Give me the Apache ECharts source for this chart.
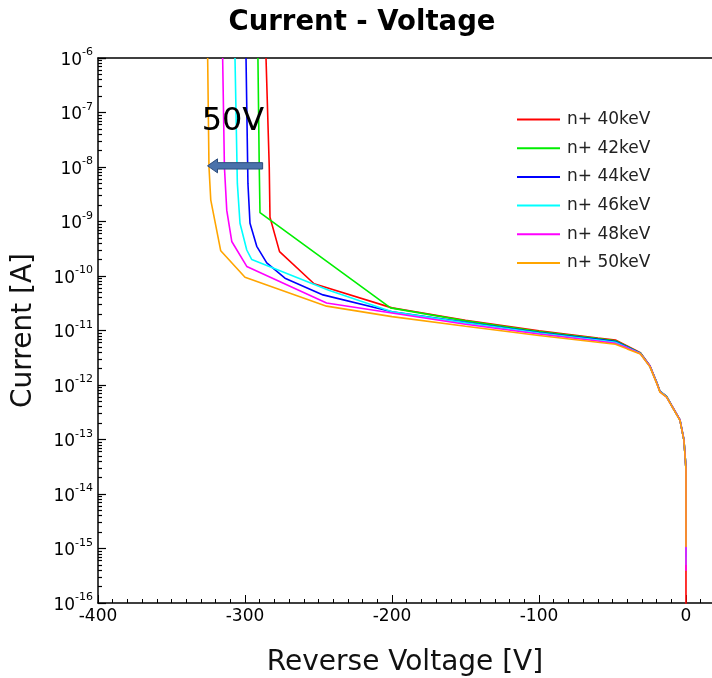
<!DOCTYPE html>
<html>
<head>
<meta charset="utf-8">
<script src="https://cdn.jsdelivr.net/npm/echarts@6/dist/echarts.min.js"></script>
<style>html,body{margin:0;padding:0;background:#fff}#c{width:712px;height:678px}</style>
</head>
<body>
<div id="c"></div>
<script>
const seriesNames = ['n+ 40keV', 'n+ 42keV', 'n+ 44keV', 'n+ 46keV', 'n+ 48keV', 'n+ 50keV'];
const seriesColors = ['#ff0000', '#00ee00', '#0000ff', '#00ffff', '#ff00ff', '#ffa500'];

const volt40 = [-285.7, -283.5, -283, -276.5, -253, -200, -150, -100, -60, -48, -40, -31, -24.5, -19.8, -17.7, -13.2, -8.6, -4.1, -1.4, -0.4, 0, 0];
const curr40 = [1e-6, 1e-8, 1.2e-9, 2.8e-10, 7.2e-11, 2.6e-11, 1.54e-11, 9.9e-12, 7.3e-12, 6.7e-12, 5.2e-12, 3.9e-12, 2.25e-12, 1.1e-12, 7.7e-13, 6.2e-13, 3.75e-13, 2.3e-13, 9.8e-14, 4.2e-14, 2.8e-14, 5e-17];

const volt42 = [-291.2, -290.3, -289.8, -201, -150, -100, -60, -48, -40, -31, -24.5, -19.8, -17.7, -13.2, -8.6, -4.1, -1.4, -0.4, 0, 0];
const curr42 = [1e-6, 1e-8, 1.45e-9, 2.6e-11, 1.5e-11, 9.6e-12, 7.1e-12, 6.5e-12, 5.1e-12, 3.85e-12, 2.2e-12, 1.1e-12, 7.6e-13, 6.1e-13, 3.7e-13, 2.3e-13, 9.8e-14, 4.2e-14, 2.8e-14, 6e-16];

const volt44 = [-299.3, -298, -296.6, -292, -285.2, -272.8, -246.9, -200, -150, -100, -60, -48, -40, -31, -24.5, -19.8, -17.7, -13.2, -8.6, -4.1, -1.4, -0.4, 0, 0];
const curr44 = [1e-6, 5e-9, 9.3e-10, 3.5e-10, 1.74e-10, 9.1e-11, 4.5e-11, 2.2e-11, 1.42e-11, 9.2e-12, 6.9e-12, 6.3e-12, 5.0e-12, 3.8e-12, 2.2e-12, 1.08e-12, 7.6e-13, 6.1e-13, 3.7e-13, 2.3e-13, 9.8e-14, 4.2e-14, 2.8e-14, 7e-16];

const volt46 = [-306.8, -305.2, -303.4, -298.8, -295.4, -243, -200, -150, -100, -60, -48, -40, -31, -24.5, -19.8, -17.7, -13.2, -8.6, -4.1, -1.4, -0.4, 0, 0];
const curr46 = [1e-6, 5e-9, 9.3e-10, 3e-10, 2e-10, 5.5e-11, 2.2e-11, 1.38e-11, 9.0e-12, 6.7e-12, 6.1e-12, 4.9e-12, 3.8e-12, 2.2e-12, 1.08e-12, 7.6e-13, 6.1e-13, 3.7e-13, 2.3e-13, 9.8e-14, 4.2e-14, 2.8e-14, 5e-16];

const volt48 = [-315.2, -314, -312.4, -309, -298.8, -244.5, -200, -150, -100, -60, -48, -40, -31, -24.5, -19.8, -17.7, -13.2, -8.6, -4.1, -1.4, -0.4, 0, 0];
const curr48 = [1e-6, 1e-8, 1.6e-9, 4.3e-10, 1.5e-10, 3.2e-11, 2.1e-11, 1.3e-11, 8.6e-12, 6.4e-12, 5.8e-12, 4.8e-12, 3.75e-12, 2.2e-12, 1.07e-12, 7.5e-13, 6.0e-13, 3.7e-13, 2.3e-13, 9.8e-14, 4.2e-14, 2.8e-14, 3.9e-16];

const volt50 = [-325.4, -324.5, -323.3, -316.5, -300, -244.5, -200, -150, -100, -60, -48, -40, -31, -24.5, -19.8, -17.7, -13.2, -8.6, -4.1, -1.4, -0.4, 0, 0];
const curr50 = [1e-6, 1e-8, 2.5e-9, 2.9e-10, 9.5e-11, 2.8e-11, 1.8e-11, 1.2e-11, 8.1e-12, 6.1e-12, 5.6e-12, 4.6e-12, 3.7e-12, 2.15e-12, 1.05e-12, 7.4e-13, 6.0e-13, 3.65e-13, 2.25e-13, 9.6e-14, 4.1e-14, 2.8e-14, 1.07e-15];

const xTickValues = [-400, -300, -200, -100, 0];
const annotationText = '50V';
const arrowFromV = -288, arrowToV = -325.5, arrowCurrent = 1.05e-8;
const textV = -308.2, textCurrent = 6.7e-8;

const allV = [volt40, volt42, volt44, volt46, volt48, volt50];
const allI = [curr40, curr42, curr44, curr46, curr48, curr50];

const FONT = 'DejaVu Sans';
const chart = echarts.init(document.getElementById('c'));

const series = seriesNames.map((name, k) => ({
  name: name,
  type: 'line',
  data: allV[k].map((v, i) => [v, allI[k][i]]),
  showSymbol: false,
  symbol: 'none',
  lineStyle: { color: seriesColors[k], width: 1.6 },
  itemStyle: { color: seriesColors[k] },
  clip: true,
  animation: false
}));

chart.setOption({
  animation: false,
  backgroundColor: '#fff',
  title: {
    text: 'Current - Voltage',
    left: 357, top: 4, textAlign: 'center',
    textStyle: { fontFamily: FONT, fontSize: 27.5, fontWeight: 'bold', color: '#000' }
  },
  legend: {
    orient: 'vertical',
    left: 517, top: 111, padding: 0,
    icon: 'rect', itemWidth: 43, itemHeight: 2,
    itemGap: 11.7,
    textStyle: { fontFamily: FONT, fontSize: 17, color: '#222', lineHeight: 17, padding: [0, 0, 0, 2] },
    data: seriesNames
  },
  grid: { left: 98, right: 0, top: 58, bottom: 75, containLabel: false, outerBoundsMode: 'none' },
  xAxis: [{
    type: 'value', min: -400, max: 17.7, interval: 100,
    name: 'Reverse Voltage [V]', nameLocation: 'middle', nameGap: 46,
    nameTextStyle: { fontFamily: FONT, fontSize: 28, color: '#111' },
    axisLine: { onZero: false, lineStyle: { color: '#000', width: 1.5 } },
    axisTick: { show: true, inside: true, length: 8, lineStyle: { color: '#000', width: 1 } },
    minorTick: { show: true, splitNumber: 10, length: 4, lineStyle: { color: '#000', width: 1 } },
    splitLine: { show: false },
    axisLabel: {
      fontFamily: FONT, fontSize: 17, color: '#000', margin: 5, showMaxLabel: false,
      formatter: v => (xTickValues.indexOf(v) >= 0 ? String(v) : '')
    }
  }, {
    type: 'value', position: 'top', min: -400, max: 17.7,
    axisLine: { show: true, onZero: false, lineStyle: { color: '#000', width: 1.5 } },
    axisTick: { show: false }, axisLabel: { show: false }, splitLine: { show: false }
  }],
  yAxis: {
    type: 'log', logBase: 10, min: 1e-16, max: 1e-6, interval: 1,
    position: 'left',
    name: 'Current [A]', nameLocation: 'middle', nameGap: 60, nameRotate: 90,
    nameTextStyle: { fontFamily: FONT, fontSize: 28, color: '#111' },
    axisLine: { show: true, onZero: false, lineStyle: { color: '#000', width: 1.5 } },
    axisTick: { show: true, inside: true, length: 8, lineStyle: { color: '#000', width: 1.2 } },
    minorTick: { show: true, splitNumber: 9, length: 4, lineStyle: { color: '#000', width: 1.2 } },
    splitLine: { show: false },
    axisLabel: {
      margin: 5,
      formatter: v => '{b|10}{s|' + Math.round(Math.log10(v)) + '}',
      rich: {
        b: { fontFamily: FONT, fontSize: 17, color: '#000', lineHeight: 22, verticalAlign: 'bottom' },
        s: { fontFamily: FONT, fontSize: 11, color: '#000', lineHeight: 12, verticalAlign: 'top' }
      }
    }
  },
  series: series
});

function drawAnnotations() {
  const toPx = (v, i) => chart.convertToPixel({ xAxisIndex: 0, yAxisIndex: 0 }, [v, i]);
  const p1 = toPx(arrowFromV, arrowCurrent);
  const p2 = toPx(arrowToV, arrowCurrent);
  const pt = toPx(textV, textCurrent);
  const y = p1[1], xs = p1[0], xe = p2[0];
  const head = 10, sh = 3.2, hh = 7;
  chart.setOption({
    graphic: [
      {
        type: 'polygon', z: 100,
        shape: { points: [[xs, y - sh], [xe + head, y - sh], [xe + head, y - hh], [xe, y], [xe + head, y + hh], [xe + head, y + sh], [xs, y + sh]] },
        style: { fill: '#4a72ab', stroke: '#2c4c7c', lineWidth: 1 }
      },
      {
        type: 'text', z: 100, x: pt[0], y: pt[1],
        style: { text: annotationText, fontFamily: FONT, fontSize: 32, fill: '#000', align: 'center', verticalAlign: 'middle' }
      }
    ]
  });
}
drawAnnotations();
</script>
</body>
</html>
